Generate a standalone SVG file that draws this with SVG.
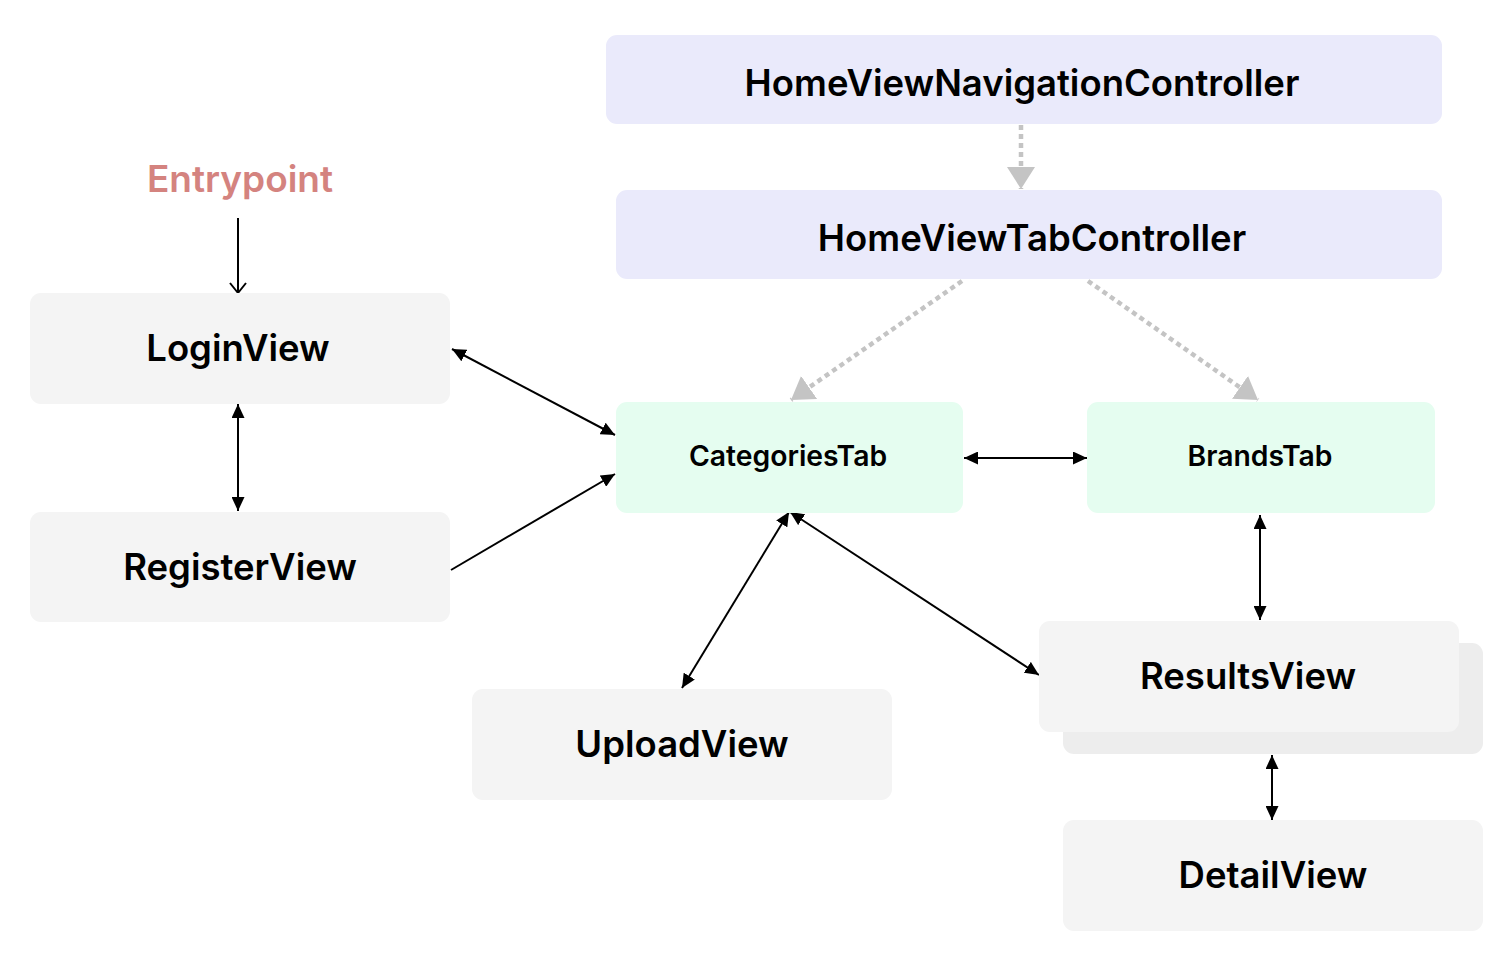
<svg xmlns="http://www.w3.org/2000/svg" width="1512" height="968" viewBox="0 0 1512 968">
<style>
text{font-family:Inter,"Noto Sans","Liberation Sans",sans-serif;text-anchor:middle;dominant-baseline:central;fill:#000}
.big{font-size:36.5px;font-weight:600}
.mid{font-size:28.3px;font-weight:600}
.ctrl{fill:#EAEAFB}
.tab{fill:#E5FDF0}
.view{fill:#F4F4F4}
.shadow{fill:#EDEDED}
.solid{stroke:#000;stroke-width:2;fill:none}
.dot{stroke:#C4C4C4;stroke-width:4.5;stroke-dasharray:5 4;fill:none}
</style>
<defs>
<marker id="ah" markerUnits="userSpaceOnUse" markerWidth="15" markerHeight="13" refX="14" refY="6.5" orient="auto-start-reverse" viewBox="0 0 15 13">
<path d="M0,0 L14,6.5 L0,13 z" fill="#000"/>
</marker>
<marker id="open" markerUnits="userSpaceOnUse" markerWidth="14" markerHeight="20" refX="12" refY="10" orient="auto" viewBox="0 0 14 20">
<path d="M2,2 L12,10 L2,18" fill="none" stroke="#000" stroke-width="2"/>
</marker>
<marker id="gh" markerUnits="userSpaceOnUse" markerWidth="24" markerHeight="28" refX="22" refY="14" orient="auto" viewBox="0 0 24 28">
<path d="M0,0 L22,14 L0,28 z" fill="#C4C4C4"/>
</marker>
</defs>
<rect width="1512" height="968" fill="#fff"/>
<g id="connectors">
<line class="dot" x1="1021" y1="125" x2="1021" y2="189" marker-end="url(#gh)"/>
<line class="dot" x1="962" y1="281" x2="791" y2="400" marker-end="url(#gh)"/>
<line class="dot" x1="1088" y1="281" x2="1258" y2="400" marker-end="url(#gh)"/>
<line class="solid" x1="238" y1="218" x2="238" y2="293" marker-end="url(#open)"/>
<line class="solid" x1="238" y1="404" x2="238" y2="511" marker-start="url(#ah)" marker-end="url(#ah)"/>
<line class="solid" x1="452" y1="349" x2="615" y2="435" marker-start="url(#ah)" marker-end="url(#ah)"/>
<line class="solid" x1="451" y1="570" x2="615" y2="474" marker-end="url(#ah)"/>
<line class="solid" x1="964" y1="458" x2="1087" y2="458" marker-start="url(#ah)" marker-end="url(#ah)"/>
<line class="solid" x1="789" y1="512" x2="682" y2="688" marker-start="url(#ah)" marker-end="url(#ah)"/>
<line class="solid" x1="790" y1="512" x2="1039" y2="675" marker-start="url(#ah)" marker-end="url(#ah)"/>
<line class="solid" x1="1260" y1="515" x2="1260" y2="620" marker-start="url(#ah)" marker-end="url(#ah)"/>
<line class="solid" x1="1272" y1="755" x2="1272" y2="820" marker-start="url(#ah)" marker-end="url(#ah)"/>
</g>
<g id="entrypoint"><text x="240" y="178" style="font-size:37px;font-weight:600;fill:#D4837F">Entrypoint</text></g>
<g id="nav"><rect class="ctrl" x="606" y="35" width="836" height="89" rx="11"/><text class="big" x="1022" y="83">HomeViewNavigationController</text></g>
<g id="tabctrl"><rect class="ctrl" x="616" y="190" width="826" height="89" rx="11"/><text class="big" x="1032" y="238">HomeViewTabController</text></g>
<g id="login"><rect class="view" x="30" y="293" width="420" height="111" rx="11"/><text class="big" x="238" y="348">LoginView</text></g>
<g id="register"><rect class="view" x="30" y="512" width="420" height="110" rx="11"/><text class="big" x="240" y="567">RegisterView</text></g>
<g id="categories"><rect class="tab" x="616" y="402" width="347" height="111" rx="11"/><text class="mid" x="788" y="456">CategoriesTab</text></g>
<g id="brands"><rect class="tab" x="1087" y="402" width="348" height="111" rx="11"/><text class="mid" x="1260" y="456">BrandsTab</text></g>
<g id="results"><rect class="shadow" x="1063" y="643" width="420" height="111" rx="11"/><rect class="view" x="1039" y="621" width="420" height="111" rx="11"/><text class="big" x="1248" y="676">ResultsView</text></g>
<g id="upload"><rect class="view" x="472" y="689" width="420" height="111" rx="11"/><text class="big" x="682" y="744">UploadView</text></g>
<g id="detail"><rect class="view" x="1063" y="820" width="420" height="111" rx="11"/><text class="big" x="1273" y="875">DetailView</text></g>
</svg>
